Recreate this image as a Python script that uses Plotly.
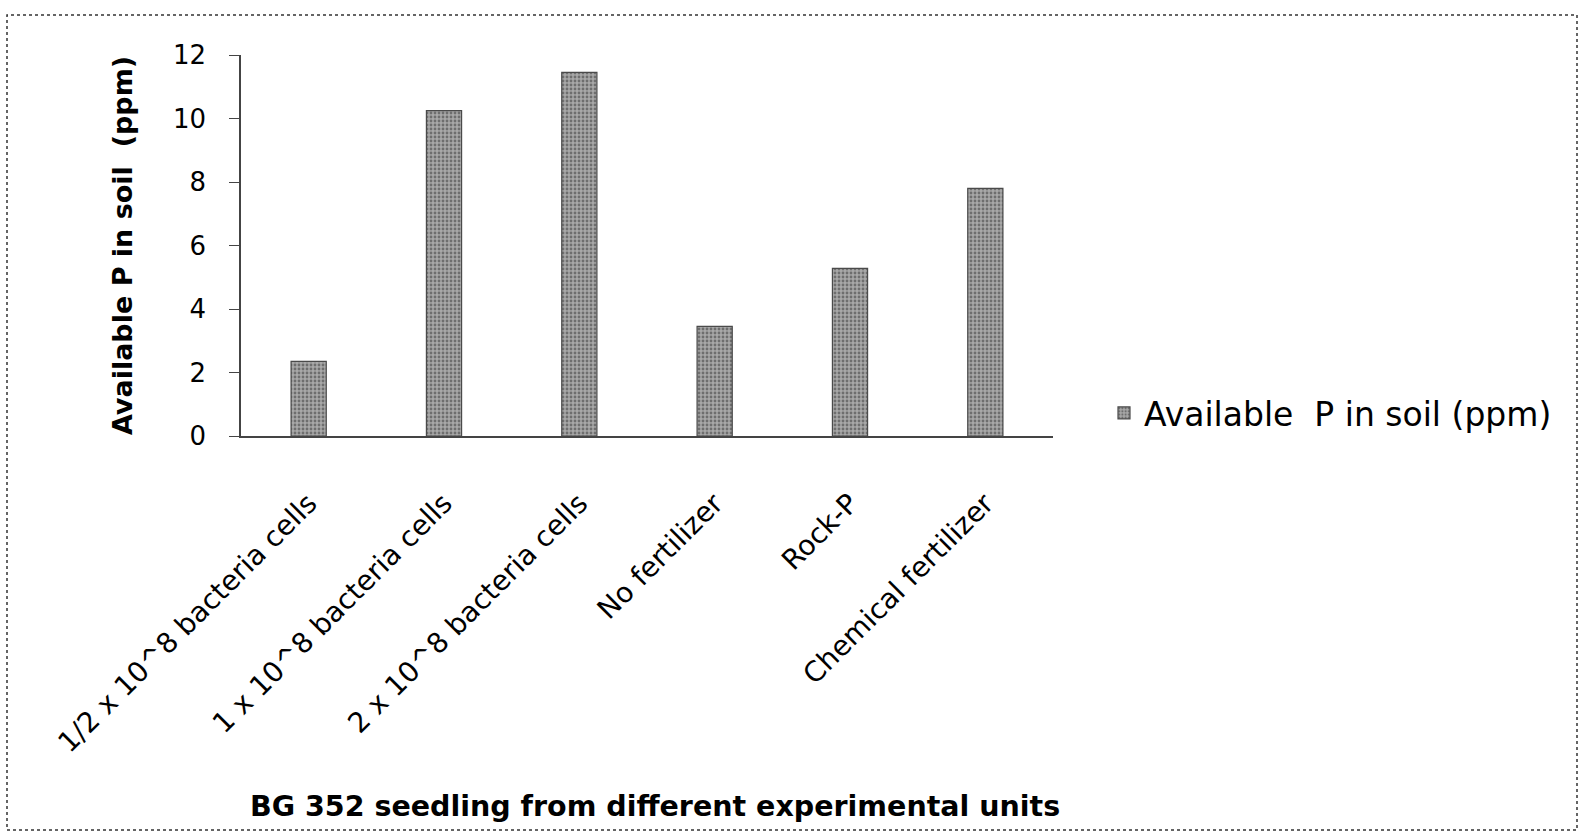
import plotly.graph_objects as go

# Treatments applied to the BG 352 seedlings
categories = [
    "1/2 x 10^8 bacteria cells",
    "1 x 10^8 bacteria cells",
    "2 x 10^8 bacteria cells",
    "No fertilizer",
    "Rock-P",
    "Chemical fertilizer",
]
# Available phosphorus measured in the soil (ppm)
available_p = [2.35, 10.25, 11.45, 3.45, 5.28, 7.8]

series_name = "Available&nbsp; P in soil (ppm)"
y_title = "Available P in soil&nbsp; (ppm)"
x_title = "BG 352 seedling from different experimental units"
y_ticks = [0, 2, 4, 6, 8, 10, 12]

FONT = "DejaVu Sans"

fig = go.Figure()
fig.add_trace(go.Bar(
    x=categories,
    y=available_p,
    name=series_name,
    marker=dict(
        color="#949494",
        line=dict(color="#4a4a4a", width=1.2),
        pattern=dict(shape=".", fgcolor="#333333", bgcolor="#a8a8a8",
                     size=4, solidity=0.4),
    ),
    showlegend=True,
))

# plot area geometry in pixels
W, H = 1580, 836
L, R, T, B = 241, 527, 55, 400
pw, ph = W - L - R, H - T - B


def px_to_paper_x(px):
    return (px - L) / pw


def px_to_paper_y(py):
    return (H - B - py) / ph


fig.update_layout(
    width=W,
    height=H,
    margin=dict(l=L, r=R, t=T, b=B, autoexpand=False),
    paper_bgcolor="white",
    plot_bgcolor="white",
    font=dict(family=FONT, color="black", size=26),
    bargap=0.74,
    legend=dict(
        x=px_to_paper_x(1104),
        y=px_to_paper_y(413),
        xanchor="left",
        yanchor="middle",
        font=dict(family=FONT, size=33, color="black"),
        itemwidth=30,
        bgcolor="rgba(0,0,0,0)",
    ),
    xaxis=dict(
        tickangle=-45,
        tickfont=dict(family=FONT, size=28, color="black"),
        showline=True,
        linecolor="#444",
        linewidth=1.5,
        ticks="",
        showgrid=False,
        ticklabelstandoff=38,
        title=dict(text=""),
    ),
    yaxis=dict(
        range=[0, 12],
        tickvals=y_ticks,
        ticktext=[str(v) for v in y_ticks],
        tickfont=dict(family=FONT, size=26, color="black"),
        showline=True,
        linecolor="#444",
        linewidth=1.5,
        ticks="outside",
        ticklen=10,
        tickcolor="#444",
        ticklabelstandoff=18,
        showgrid=False,
        zeroline=False,
        title=dict(text=f"<b>{y_title}</b>", font=dict(family=FONT, size=27, color="black"),
                   standoff=33),
    ),
    annotations=[
        dict(
            text=f"<b>{x_title}</b>",
            xref="paper", yref="paper",
            x=px_to_paper_x(655), y=px_to_paper_y(806),
            xanchor="center", yanchor="middle",
            showarrow=False,
            font=dict(family=FONT, size=28.5, color="black"),
        )
    ],
    shapes=[
        dict(
            type="rect",
            xref="paper", yref="paper",
            x0=px_to_paper_x(7), x1=px_to_paper_x(1577),
            y0=px_to_paper_y(830), y1=px_to_paper_y(15),
            line=dict(color="#333", width=1.5, dash="dot"),
            layer="below",
        )
    ],
)

fig.write_html("out.html")
